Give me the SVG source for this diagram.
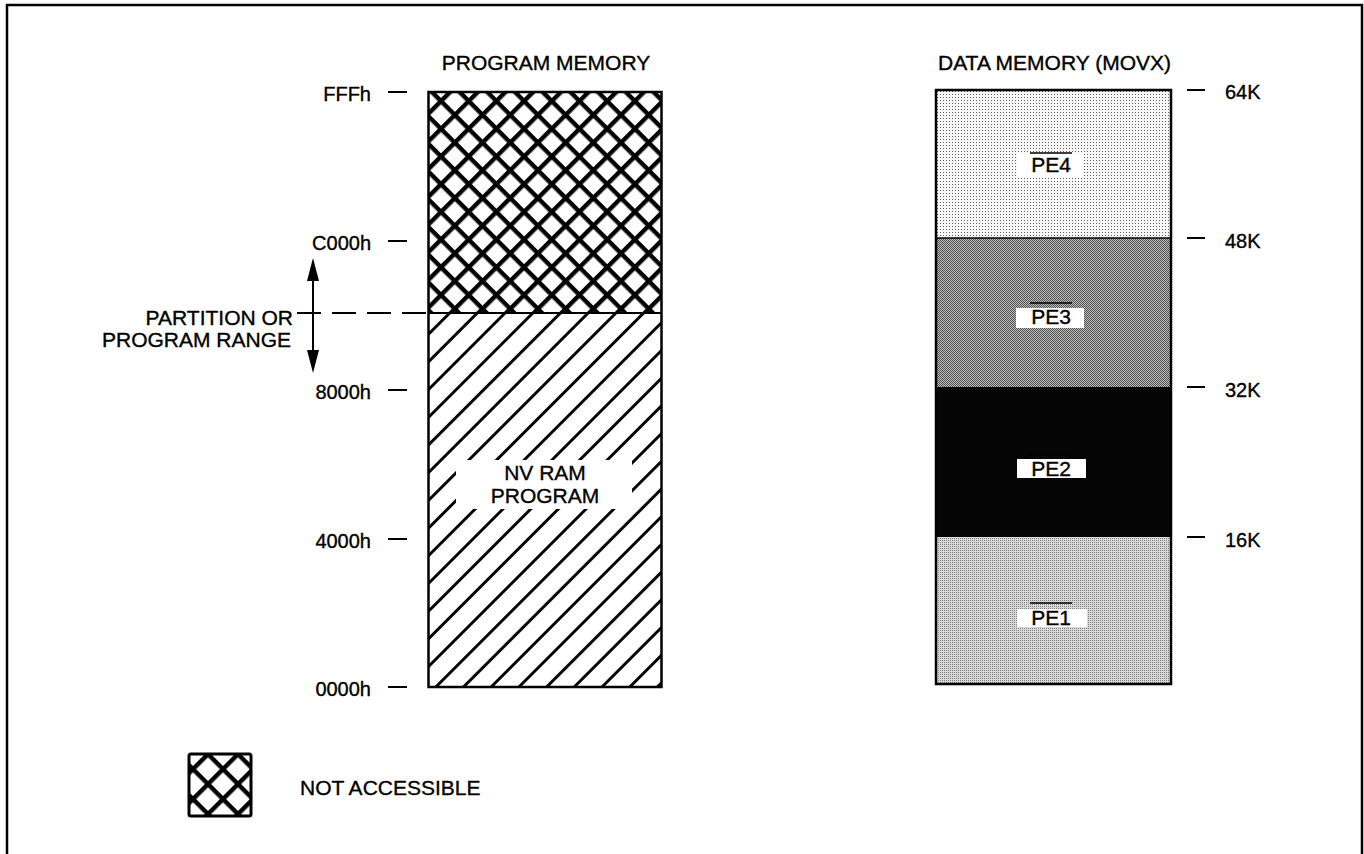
<svg xmlns="http://www.w3.org/2000/svg" width="1364" height="854" viewBox="0 0 1364 854">
<style>
text{font-family:"Liberation Sans",Arial,sans-serif;font-size:21px;fill:#000;stroke:#000;stroke-width:0.35}
.t{font-size:20px}
.tick{stroke:#000;stroke-width:2}
.box{fill:none;stroke:#000;stroke-width:2.5}
.ol{stroke:#000;stroke-width:1.6}
</style>
<defs>
<pattern id="xh" patternUnits="userSpaceOnUse" width="19.587" height="19.587" patternTransform="translate(441,98) rotate(45)">
<rect width="19.587" height="19.587" fill="#fff"/>
<rect x="0" y="0" width="19.587" height="4.4" fill="#000"/>
<rect x="0" y="0" width="4.4" height="19.587" fill="#000"/>
</pattern>
<pattern id="dg" patternUnits="userSpaceOnUse" width="19.587" height="19.587" patternTransform="translate(441,98) rotate(45)">
<rect width="19.587" height="19.587" fill="#fff"/>
<rect x="0" y="0" width="2.9" height="19.587" fill="#000"/>
</pattern>
<pattern id="xl" patternUnits="userSpaceOnUse" width="21.2" height="21.2" patternTransform="translate(223,766) rotate(45)">
<rect width="21.2" height="21.2" fill="#fff"/>
<rect x="0" y="0" width="21.2" height="4.4" fill="#000"/>
<rect x="0" y="0" width="4.4" height="21.2" fill="#000"/>
</pattern>
<pattern id="g4" patternUnits="userSpaceOnUse" width="3" height="3">
<rect width="3" height="3" fill="#f8f8f8"/>
<rect x="1" y="1" width="1" height="1" fill="#5e5e5e"/>
</pattern>
<pattern id="g3" patternUnits="userSpaceOnUse" width="2" height="2">
<rect width="2" height="2" fill="#bdbdbd"/>
<rect x="0" y="0" width="1" height="1" fill="#505050"/>
<rect x="1" y="1" width="1" height="1" fill="#505050"/>
</pattern>
<pattern id="g1" patternUnits="userSpaceOnUse" width="2" height="2">
<rect width="2" height="2" fill="#dadada"/>
<rect x="0" y="0" width="1" height="1" fill="#7e7e7e"/>
</pattern>
</defs>

<rect width="1364" height="854" fill="#fff"/>
<path d="M7,860 V5 H1362 V860" fill="none" stroke="#000" stroke-width="2.5"/>

<g id="program-memory">
<text x="546" y="70" text-anchor="middle">PROGRAM MEMORY</text>
<rect id="not-accessible-region" x="428.5" y="92" width="233" height="221" fill="url(#xh)"/>
<rect id="nvram-region" x="428.5" y="313" width="233" height="374" fill="url(#dg)"/>
<rect x="456" y="460" width="176" height="49" fill="#fff"/>
<text x="545" y="480" text-anchor="middle">NV RAM</text>
<text x="545" y="503" text-anchor="middle">PROGRAM</text>
<line x1="428.5" y1="313" x2="661.5" y2="313" stroke="#000" stroke-width="2"/>
<rect class="box" x="428.5" y="92" width="233" height="595"/>
</g>

<g id="program-addresses">
<text class="t" x="371" y="101" text-anchor="end">FFFh</text>
<line class="tick" x1="388" y1="92" x2="407" y2="92"/>
<text class="t" x="371" y="250" text-anchor="end">C000h</text>
<line class="tick" x1="388" y1="241" x2="407" y2="241"/>
<text class="t" x="371" y="399" text-anchor="end">8000h</text>
<line class="tick" x1="388" y1="390" x2="407" y2="390"/>
<text class="t" x="371" y="548" text-anchor="end">4000h</text>
<line class="tick" x1="388" y1="539" x2="407" y2="539"/>
<text class="t" x="371" y="696" text-anchor="end">0000h</text>
<line class="tick" x1="388" y1="687" x2="407" y2="687"/>
</g>

<g id="partition-label">
<text x="293" y="325" text-anchor="end">PARTITION OR</text>
<text x="291" y="347" text-anchor="end">PROGRAM RANGE</text>
</g>

<g id="connectors">
<line x1="297" y1="313" x2="428" y2="313" stroke="#000" stroke-width="2" stroke-dasharray="24 11"/>
<line x1="313" y1="276" x2="313" y2="355" stroke="#000" stroke-width="2"/>
<polygon points="313,258 307,281 319,281" fill="#000"/>
<polygon points="313,373 307,350 319,350" fill="#000"/>
</g>

<g id="data-memory">
<text x="938" y="70">DATA MEMORY (MOVX)</text>
<g id="pe4">
<rect x="936" y="90" width="235" height="148" fill="url(#g4)"/>
<rect x="1017" y="154" width="66" height="23" fill="#fff"/>
<line class="ol" x1="1030" y1="153" x2="1072" y2="153"/>
<text x="1051" y="172" text-anchor="middle">PE4</text>
</g>
<g id="pe3">
<rect x="936" y="238" width="235" height="149" fill="url(#g3)"/>
<rect x="1016" y="308" width="68" height="20" fill="#fff"/>
<line class="ol" x1="1030" y1="303" x2="1072" y2="303"/>
<text x="1051" y="324" text-anchor="middle">PE3</text>
</g>
<g id="pe2">
<rect x="936" y="387" width="235" height="150" fill="#050505"/>
<rect x="1017" y="459" width="69" height="19" fill="#fff"/>
<line class="ol" x1="1030" y1="455" x2="1072" y2="455"/>
<text x="1051" y="476" text-anchor="middle">PE2</text>
</g>
<g id="pe1">
<rect x="936" y="537" width="235" height="147" fill="url(#g1)"/>
<rect x="1017" y="609" width="70" height="18" fill="#fff"/>
<line class="ol" x1="1030" y1="603" x2="1072" y2="603"/>
<text x="1051" y="625" text-anchor="middle">PE1</text>
</g>
<line x1="936" y1="238" x2="1171" y2="238" stroke="#000" stroke-width="1.5"/>
<rect class="box" x="936" y="90" width="235" height="594"/>
</g>

<g id="data-addresses">
<line class="tick" x1="1187" y1="90" x2="1205" y2="90"/>
<text class="t" x="1225" y="99">64K</text>
<line class="tick" x1="1187" y1="238" x2="1205" y2="238"/>
<text class="t" x="1225" y="248">48K</text>
<line class="tick" x1="1187" y1="387" x2="1205" y2="387"/>
<text class="t" x="1225" y="397">32K</text>
<line class="tick" x1="1187" y1="537" x2="1205" y2="537"/>
<text class="t" x="1225" y="547">16K</text>
</g>

<g id="legend">
<rect x="189" y="754" width="62" height="62" rx="2" fill="url(#xl)" stroke="#000" stroke-width="3"/>
<text x="300" y="795">NOT ACCESSIBLE</text>
</g>
</svg>
